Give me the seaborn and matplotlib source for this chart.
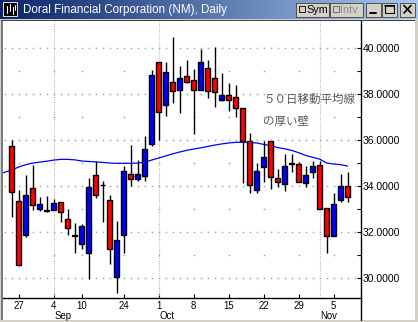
import numpy as np
import pandas as pd
import matplotlib
matplotlib.use("Agg")
import matplotlib.pyplot as plt
import seaborn as sns
from matplotlib.patches import Rectangle
from matplotlib.colors import LinearSegmentedColormap

# ---------------- data ----------------
dates = ["2001-08-24", "2001-08-27", "2001-08-28", "2001-08-29", "2001-08-30", "2001-08-31",
         "2001-09-04", "2001-09-05", "2001-09-06", "2001-09-07", "2001-09-10",
         "2001-09-17", "2001-09-18", "2001-09-19", "2001-09-20", "2001-09-21",
         "2001-09-24", "2001-09-25", "2001-09-26", "2001-09-27", "2001-09-28",
         "2001-10-01", "2001-10-02", "2001-10-03", "2001-10-04", "2001-10-05",
         "2001-10-08", "2001-10-09", "2001-10-10", "2001-10-11", "2001-10-12",
         "2001-10-15", "2001-10-16", "2001-10-17", "2001-10-18", "2001-10-19",
         "2001-10-22", "2001-10-23", "2001-10-24", "2001-10-25", "2001-10-26",
         "2001-10-29", "2001-10-30", "2001-10-31", "2001-11-01", "2001-11-02",
         "2001-11-05", "2001-11-06", "2001-11-07"]
opens = [35.74, 33.35, 31.89, 33.90, 33.03, 32.95, 32.96, 33.30, 32.56, 31.85, 31.50,
         31.08, 34.49, 34.06, 33.40, 30.06, 31.90, 34.52, 34.32, 34.45, 35.83,
         39.37, 37.51, 38.50, 38.16, 38.76, 38.59, 38.16, 39.11, 38.68, 37.74,
         37.95, 37.85, 37.38, 35.97, 33.83, 34.82, 35.97, 34.34, 34.08, 34.96,
         34.94, 34.12, 34.60, 34.92, 33.04, 31.84, 33.38, 34.00]
highs = [36.00, 33.85, 34.48, 34.90, 33.55, 33.57, 33.44, 33.30, 33.00, 32.40, 32.35,
         34.34, 35.07, 34.22, 33.62, 32.48, 34.89, 35.78, 35.13, 36.17, 39.04,
         39.40, 39.37, 40.46, 39.21, 39.47, 39.07, 39.95, 39.47, 40.05, 38.89,
         38.46, 38.39, 37.40, 36.32, 34.99, 35.96, 35.97, 34.74, 35.39, 35.39,
         35.06, 34.87, 35.10, 35.10, 33.04, 33.69, 34.52, 34.62]
lows = [32.67, 30.55, 31.80, 32.97, 32.93, 32.88, 32.96, 32.46, 31.90, 31.12, 31.28,
        29.98, 33.48, 32.45, 30.62, 29.36, 31.10, 34.00, 34.22, 34.22, 35.75,
        36.00, 37.05, 37.59, 37.18, 38.46, 36.26, 38.16, 37.84, 37.42, 37.71,
        37.27, 36.98, 34.12, 33.69, 33.69, 34.19, 33.86, 33.97, 33.80, 34.63,
        34.16, 33.97, 34.34, 32.99, 31.08, 31.84, 33.32, 33.32]
closes = [33.74, 30.60, 33.60, 33.17, 33.21, 32.92, 33.25, 32.86, 32.17, 31.85, 32.28,
          33.98, 33.60, 34.04, 31.27, 31.66, 34.67, 34.30, 34.52, 35.60, 38.82,
          37.20, 38.94, 38.11, 38.68, 38.50, 38.16, 39.37, 38.11, 38.07, 37.95,
          37.74, 37.38, 35.96, 34.05, 34.66, 35.28, 34.38, 34.19, 34.87, 34.98,
          34.16, 34.48, 34.87, 32.99, 31.84, 33.21, 34.00, 33.51]
# 50-day moving average, starting two sessions before the first candle
ma_dates = ["2001-08-22", "2001-08-23"] + dates
ma_values = [34.50, 34.60, 34.70, 34.83, 34.93, 35.00, 35.04, 35.08, 35.13, 35.16, 35.16,
             35.14, 35.09, 35.07, 35.05, 35.03, 35.00, 34.99, 34.99, 34.99, 35.00,
             35.04, 35.13, 35.22, 35.31, 35.40, 35.48, 35.55, 35.61, 35.66, 35.72,
             35.78, 35.83, 35.87, 35.90, 35.90, 35.90, 35.87, 35.81, 35.75, 35.67,
             35.62, 35.55, 35.45, 35.33, 35.25, 35.17, 35.00, 34.96, 34.93, 34.87]
tick_dates = ["2001-08-27", "2001-09-04", "2001-09-10", "2001-09-24", "2001-10-01",
              "2001-10-08", "2001-10-15", "2001-10-22", "2001-10-29", "2001-11-05"]
tick_labels = ["27", "4", "10", "24", "1", "8", "15", "22", "29", "5"]
month_dates = ["2001-09-04", "2001-10-01", "2001-11-01"]
month_labels = ["Sep", "Oct", "Nov"]
y_ticks = [30, 32, 34, 36, 38, 40]
y_minor = [31, 33, 35, 37, 39]
note_lines = ["５０日移動平均線", "の厚い壁"]
title = "Doral Financial Corporation (NM), Daily"

# ---------------- figure ----------------
sns.set_theme(style="white")
plt.rcParams["font.family"] = ["Liberation Sans", "Noto Sans CJK JP", "DejaVu Sans"]

W, H = 418, 322
fig = plt.figure(figsize=(W / 100, H / 100), dpi=100, facecolor="#D4D0C8")


def frac(x0, y0, x1, y1):
    return [x0 / W, 1 - y1 / H, (x1 - x0) / W, (y1 - y0) / H]


# client background
bg = fig.add_axes(frac(3, 20, 415, 320))
bg.set_facecolor("white")
bg.set_xticks([]); bg.set_yticks([])
for s in bg.spines.values():
    s.set_visible(False)

df = pd.DataFrame({"date": pd.to_datetime(dates), "open": opens, "high": highs,
                   "low": lows, "close": closes})
df["idx"] = np.arange(len(df))
pos_of = {d: i for i, d in enumerate(dates)}
ma_df = pd.DataFrame({"idx": np.arange(len(ma_values)) - 2, "ma": ma_values})

ax = fig.add_axes(frac(3, 21, 361, 298))
ax.set_facecolor("none")
ax.set_xlim(-1.24, 49.9)
ax.set_ylim(29.15, 41.16)

# grid: dotted at even prices, dots at ticks for odd prices, month separators
grid_c = "#A8A8A8"
gx = np.arange(-1, 50)
for yv in y_ticks:
    ax.plot(gx, [yv] * len(gx), ls="none", marker="s", ms=1.1, mew=0, color=grid_c, zorder=1)
tick_pos = [pos_of[d] for d in tick_dates]
for yv in y_minor:
    ax.plot(tick_pos, [yv] * len(tick_pos), ls="none", marker="s", ms=1.1, mew=0,
            color=grid_c, zorder=1)
for d in month_dates:
    ax.axvline(pos_of[d], color=grid_c, lw=0.8, dashes=(0.8, 1.4), zorder=1)

# moving average
sns.lineplot(data=ma_df, x="idx", y="ma", ax=ax, color="#0000FF", lw=0.9, zorder=2,
             legend=False)

# candles
o = df["open"].values; c = df["close"].values
cols = np.where(c >= o, "#0000FF", "#FF0000")
ax.vlines(df["idx"], df["low"], df["high"], color="black", lw=1.0, zorder=3)
body_low = np.minimum(o, c)
body_h = np.maximum(np.abs(c - o), 0.03)
ax.bar(df["idx"], body_h, bottom=body_low, width=0.72, color=cols, edgecolor="black",
       linewidth=1.0, zorder=4)

# annotation
ax.text(35.9, 37.74, note_lines[0], fontsize=8.3, color="#5A5A5A", va="center", ha="left",
        family=["Noto Sans CJK JP", "DejaVu Sans"], zorder=5)
ax.text(35.9, 36.80, note_lines[1], fontsize=8.3, color="#5A5A5A", va="center", ha="left",
        family=["Noto Sans CJK JP", "DejaVu Sans"], zorder=5)

# axes styling
for s in ["left", "top"]:
    ax.spines[s].set_visible(False)
for s in ["right", "bottom"]:
    ax.spines[s].set_visible(True)
    ax.spines[s].set_color("black")
    ax.spines[s].set_linewidth(1.0)
ax.yaxis.tick_right()
ax.set_yticks(y_ticks)
ax.set_yticks(y_minor, minor=True)
ax.set_yticklabels([f"{v:.4f}" for v in y_ticks])
ax.tick_params(axis="y", which="both", direction="in", length=3, width=0.8, color="black",
               labelsize=7.5, pad=1.5, labelcolor="black", right=True, left=False)
ax.set_xticks(tick_pos)
ax.set_xticklabels(tick_labels)
ax.tick_params(axis="x", which="both", direction="in", length=3, width=0.8, color="black",
               labelsize=6.9, pad=2.2, labelcolor="black", bottom=True)
ax.set_xlabel(""); ax.set_ylabel("")
ax.grid(False)
for d, lab in zip(month_dates, month_labels):
    ax.text(pos_of[d] + 0.1, -0.0665, lab, transform=ax.get_xaxis_transform(), fontsize=6.9,
            ha="left", va="center", color="black")

# ---------------- window chrome ----------------
ov = fig.add_axes([0, 0, 1, 1], facecolor="none")
ov.set_xlim(0, W); ov.set_ylim(H, 0); ov.axis("off")
grad = np.linspace(0, 1, 256).reshape(1, -1)
cmap = LinearSegmentedColormap.from_list("tb", ["#0A246A", "#A6CAF0"])
ov.imshow(grad, cmap=cmap, aspect="auto", extent=(0, W, 18.5, 0), zorder=1)
ov.text(23, 9.5, title, color="white", fontsize=8.4, va="center", ha="left", zorder=3)
# icon
ov.add_patch(Rectangle((3, 2), 14, 14, facecolor="black", edgecolor="white", lw=0.6, zorder=3))
for xx, y0, y1 in [(6.5, 6, 13), (9.5, 4, 11), (12.5, 7, 14), (14.5, 5, 10)]:
    ov.plot([xx, xx], [y0, y1], color="white", lw=0.8, zorder=4)
# buttons
def button(x0, x1, y0=2.5, y1=16.5):
    ov.add_patch(Rectangle((x0, y0), x1 - x0, y1 - y0, facecolor="#D4D0C8",
                           edgecolor="#404040", lw=0.6, zorder=3))
button(296, 329); button(330, 363); button(366, 381); button(382, 397); button(400, 415)
ov.add_patch(Rectangle((299, 6), 6, 6, facecolor="#D4D0C8", edgecolor="black", lw=0.6, zorder=4))
ov.text(306, 9.5, "Sym", fontsize=7.8, color="black", va="center", ha="left", zorder=4)
ov.add_patch(Rectangle((333, 6), 6, 6, facecolor="#D4D0C8", edgecolor="#606060", lw=0.6, zorder=4))
ov.text(340, 9.5, "Intv", fontsize=7.8, color="#909090", va="center", ha="left", zorder=4)
ov.plot([370, 376], [13, 13], color="black", lw=1.4, zorder=4)
ov.add_patch(Rectangle((385, 5), 9, 8, facecolor="none", edgecolor="black", lw=0.8, zorder=4))
ov.plot([385, 394], [5.5, 5.5], color="black", lw=1.2, zorder=4)
ov.plot([404, 411], [5.5, 13], color="black", lw=1.2, zorder=4)
ov.plot([404, 411], [13, 5.5], color="black", lw=1.2, zorder=4)
# frame lines
ov.add_patch(Rectangle((0, 18.5), 1.2, H, facecolor="#D4D0C8", lw=0, zorder=2))
ov.add_patch(Rectangle((1.2, 19.5), 1.8, H - 21.5, facecolor="#7A7A7A", lw=0, zorder=2))
ov.add_patch(Rectangle((1.2, 19.5), 413.5, 1.2, facecolor="#404040", lw=0, zorder=2))
ov.add_patch(Rectangle((415, 18.5), 3, H, facecolor="#D4D0C8", lw=0, zorder=2))
ov.plot([361, 361], [298, 320], color="black", lw=1.0, zorder=2)

fig.savefig("out.png", dpi=100, facecolor=fig.get_facecolor())
